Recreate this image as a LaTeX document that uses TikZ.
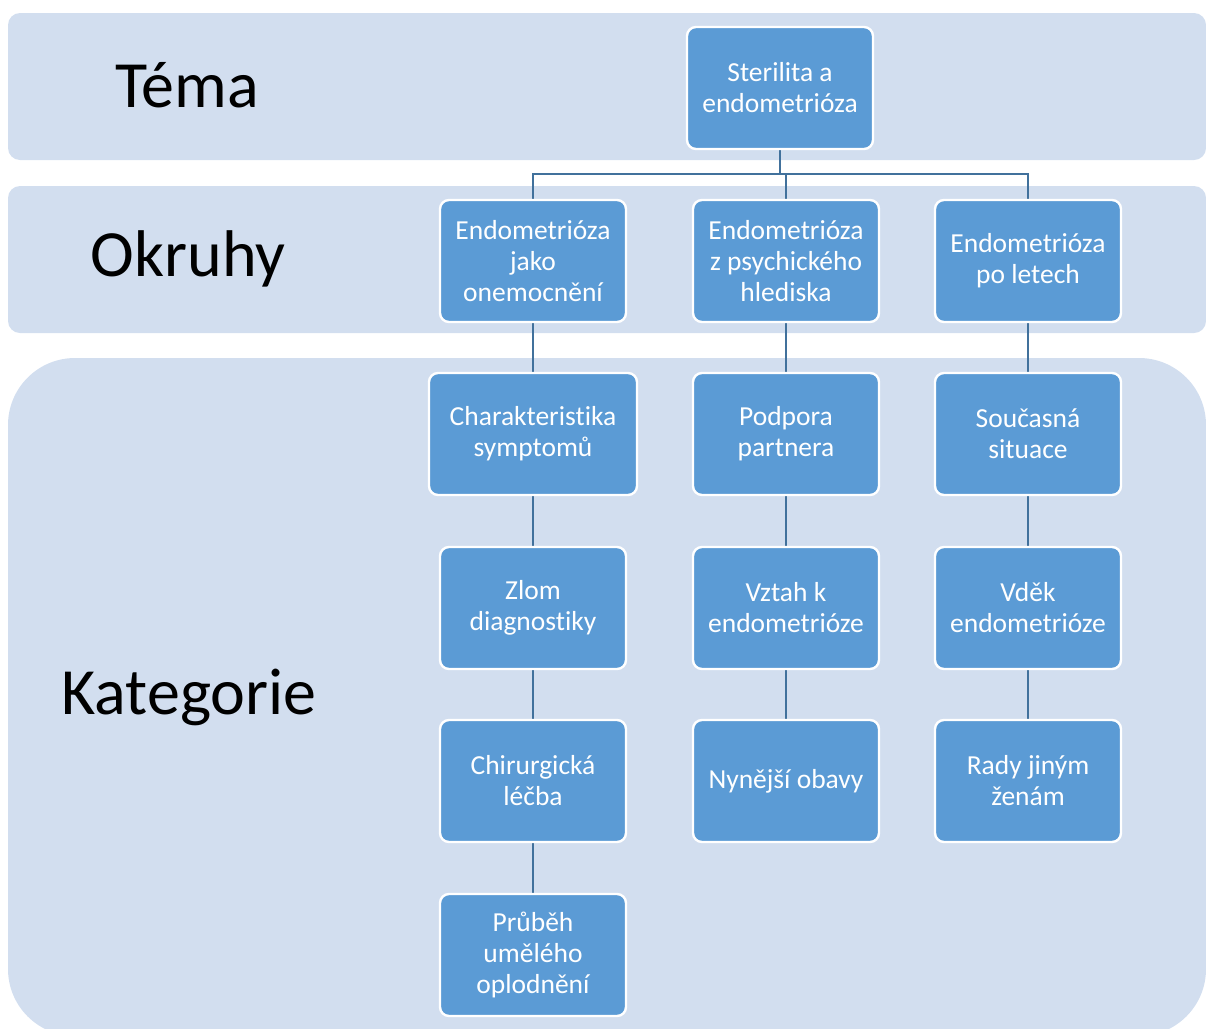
\documentclass[tikz,border=0pt]{standalone}
\usepackage{fontspec}
\setmainfont{Carlito}[Ligatures=NoCommon]
\usetikzlibrary{backgrounds}
\definecolor{bandc}{RGB}{210,222,239}
\definecolor{boxc}{RGB}{91,155,213}
\definecolor{linec}{RGB}{65,113,156}
\begin{document}
\begin{tikzpicture}[x=1pt,y=-1pt,
  band/.style={fill=bandc},
  box/.style={draw=white, line width=2.4pt, fill=boxc, rounded corners=9pt,
    text=white, minimum width=186pt, minimum height=122pt, align=center,
    font=\fontsize{27.5}{31}\selectfont, inner sep=0pt},
  conn/.style={draw=linec, line width=2.5pt},
  lab/.style={font=\fontsize{66}{72}\selectfont, text=black, inner sep=0pt}]
\useasboundingbox (0,0) rectangle (1206,1028);
\clip (0,0) rectangle (1206,1028);
\begin{scope}[on background layer]
  \fill[band, rounded corners=12pt] (8,13) rectangle (1206,160);
  \fill[band, rounded corners=12pt] (8,186) rectangle (1206,333);
  \fill[band, rounded corners=67pt] (8,358) rectangle (1206,1036);
\end{scope}
\node[lab] (tema) at (187,85) {Téma};
\node[lab] (okruhy) at (188,259) {Okruhy};
\node[lab] (kat) at (189,697) {Kategorie};
\node[box] (top) at (780,88) {Sterilita a\\endometrióza};
\node[box] (okA) at (533,261) {Endometrióza\\jako\\onemocnění};
\node[box] (okB) at (786,261) {Endometrióza\\z psychického\\hlediska};
\node[box] (okC) at (1028,261) {Endometrióza\\po letech};
\node[box, minimum width=208pt] (a1) at (533,434) {Charakteristika\\symptomů};
\node[box] (a2) at (533,608) {Zlom\\diagnostiky};
\node[box] (a3) at (533,781) {Chirurgická\\léčba};
\node[box] (a4) at (533,955) {Průběh\\umělého\\oplodnění};
\node[box] (b1) at (786,434) {Podpora\\partnera};
\node[box] (b2) at (786,608) {Vztah k\\endometrióze};
\node[box] (b3) at (786,781) {Nynější obavy};
\node[box] (c1) at (1028,434) {Současná\\situace};
\node[box] (c2) at (1028,608) {Vděk\\endometrióze};
\node[box] (c3) at (1028,781) {Rady jiným\\ženám};
\begin{scope}[on background layer]
  \draw[conn] (top.south) -- +(0,24) -| (okA.north);
  \draw[conn] (top.south) -- +(0,24) -| (okB.north);
  \draw[conn] (top.south) -- +(0,24) -| (okC.north);
  \draw[conn] (okA) -- (a1);
  \draw[conn] (a1) -- (a2);
  \draw[conn] (a2) -- (a3);
  \draw[conn] (a3) -- (a4);
  \draw[conn] (okB) -- (b1);
  \draw[conn] (b1) -- (b2);
  \draw[conn] (b2) -- (b3);
  \draw[conn] (okC) -- (c1);
  \draw[conn] (c1) -- (c2);
  \draw[conn] (c2) -- (c3);
\end{scope}
\end{tikzpicture}
\end{document}
